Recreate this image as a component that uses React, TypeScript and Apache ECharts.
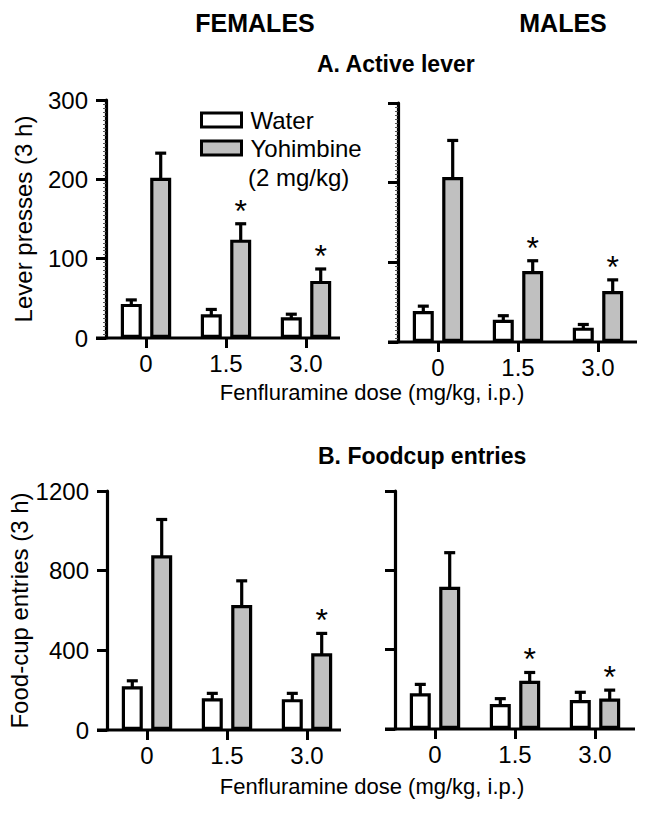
import React, { useEffect, useRef } from "react";
import * as echarts from "echarts";

const categories = ["0", "1.5", "3.0"];

const femLeverWater = [43, 30, 26];
const femLeverWaterSem = [5, 6, 4];
const femLeverYoh = [202, 124, 72];
const femLeverYohSem = [31, 20, 15];
const femLeverYohStar = [0, 1, 1];

const maleLeverWater = [39, 28, 18];
const maleLeverWaterSem = [6, 5, 4];
const maleLeverYoh = [207, 89, 64];
const maleLeverYohSem = [46, 13, 14];
const maleLeverYohStar = [0, 1, 1];

const femFoodWater = [220, 159, 155];
const femFoodWaterSem = [27, 25, 29];
const femFoodYoh = [877, 627, 385];
const femFoodYohSem = [180, 122, 100];
const femFoodYohStar = [0, 0, 1];

const maleFoodWater = [180, 126, 146];
const maleFoodWaterSem = [45, 27, 39];
const maleFoodYoh = [717, 243, 154];
const maleFoodYohSem = [172, 42, 42];
const maleFoodYohStar = [0, 1, 1];

const noStars = [0, 0, 0];

const leverTicks = { max: 300, interval: 100 };
const foodTicks = { max: 1200, interval: 400 };

const FONT = "Liberation Sans, Arial, Helvetica, sans-serif";
const BAR_W = 21;
const BAR_GAP = 0.4;
const OFFSET = (BAR_W * (1 + BAR_GAP)) / 2;

const panels = [
  {
    grid: { left: 106, top: 100, width: 240, height: 238 },
    ticks: leverTicks, labels: true, name: "Lever presses (3 h)", lineEnd: 234,
    water: femLeverWater, waterSem: femLeverWaterSem,
    yoh: femLeverYoh, yohSem: femLeverYohSem, yohStar: femLeverYohStar, minor: true,
  },
  {
    grid: { left: 398, top: 103, width: 240, height: 239 },
    ticks: leverTicks, labels: false, name: "", lineEnd: 239,
    water: maleLeverWater, waterSem: maleLeverWaterSem,
    yoh: maleLeverYoh, yohSem: maleLeverYohSem, yohStar: maleLeverYohStar, minor: true,
  },
  {
    grid: { left: 107, top: 491, width: 240, height: 239 },
    ticks: foodTicks, labels: true, name: "Food-cup entries (3 h)", lineEnd: 234,
    water: femFoodWater, waterSem: femFoodWaterSem,
    yoh: femFoodYoh, yohSem: femFoodYohSem, yohStar: femFoodYohStar, minor: false,
  },
  {
    grid: { left: 395, top: 491, width: 240, height: 238 },
    ticks: foodTicks, labels: false, name: "", lineEnd: 240,
    water: maleFoodWater, waterSem: maleFoodWaterSem,
    yoh: maleFoodYoh, yohSem: maleFoodYohSem, yohStar: maleFoodYohStar, minor: false,
  },
];

function errSeries(gi: number, vals: number[], sems: number[], stars: number[], sign: number) {
  return {
    type: "custom",
    xAxisIndex: gi,
    yAxisIndex: gi,
    z: 5,
    encode: { x: 0, y: 1 },
    data: vals.map((v, i) => [i, v, sems[i], stars[i]]),
    renderItem: (params: any, api: any) => {
      const idx = api.value(0);
      const val = api.value(1);
      const sem = api.value(2);
      const star = api.value(3);
      const base = api.coord([idx, val]);
      const top = api.coord([idx, val + sem]);
      const x = base[0] + sign * OFFSET;
      const children: any[] = [
        { type: "line", shape: { x1: x, y1: base[1] + 2, x2: x, y2: top[1] }, style: { stroke: "#000", lineWidth: 3.2 } },
        { type: "line", shape: { x1: x - 5.5, y1: top[1], x2: x + 5.5, y2: top[1] }, style: { stroke: "#000", lineWidth: 3.2 } },
      ];
      if (star) {
        children.push({
          type: "text",
          style: {
            text: "*", x: x, y: top[1] - 13, align: "center", verticalAlign: "middle",
            fontSize: 32, fontFamily: FONT, fill: "#000",
          },
        });
      }
      return { type: "group", children };
    },
  };
}

export default function App() {
  const ref = useRef<HTMLDivElement>(null);
  useEffect(() => {
    if (!ref.current) return;
    const chart = echarts.init(ref.current, null, { renderer: "svg" });
    const grids = panels.map((p) => ({ ...p.grid, containLabel: false }));
    const xAxes = panels.map((p, i) => ({
      type: "category",
      gridIndex: i,
      data: categories,
      axisLine: { show: false },
      axisTick: { show: true, alignWithLabel: true, length: 10, lineStyle: { color: "#000", width: 3 } },
      axisLabel: { color: "#000", fontSize: 24, fontFamily: FONT, margin: 13 },
      splitLine: { show: false },
    }));
    const yAxes = panels.map((p, i) => ({
      type: "value",
      gridIndex: i,
      min: 0,
      max: p.ticks.max,
      interval: p.ticks.interval,
      name: p.name,
      nameLocation: "middle",
      nameGap: 71,
      nameTextStyle: { color: "#000", fontSize: 24, fontFamily: FONT },
      axisLine: { show: true, lineStyle: { color: "#000", width: 3.2 } },
      axisTick: { show: true, length: 10, lineStyle: { color: "#000", width: 3 } },
      minorTick: { show: p.minor, splitNumber: 20, length: 3, lineStyle: { color: "#555", width: 1 } },
      axisLabel: {
        show: p.labels, color: "#000", fontSize: 24, fontFamily: FONT, margin: 18,
        formatter: (v: number) => String(v),
      },
      splitLine: { show: false },
    }));
    const series: any[] = [];
    panels.forEach((p, i) => {
      series.push({
        type: "bar", name: "Water", xAxisIndex: i, yAxisIndex: i, data: p.water,
        barWidth: BAR_W, barGap: BAR_GAP * 100 + "%",
        itemStyle: { color: "#ffffff", borderColor: "#000", borderWidth: 3.2 },
      });
      series.push({
        type: "bar", name: "Yohimbine", xAxisIndex: i, yAxisIndex: i, data: p.yoh,
        barWidth: BAR_W, barGap: BAR_GAP * 100 + "%",
        itemStyle: { color: "#c0c0c0", borderColor: "#000", borderWidth: 3.2 },
      });
      series.push(errSeries(i, p.water, p.waterSem, noStars, -1));
      series.push(errSeries(i, p.yoh, p.yohSem, p.yohStar, 1));
    });
    const axisLines = panels.map((p) => ({
      type: "line",
      shape: {
        x1: p.grid.left - 10, y1: p.grid.top + p.grid.height,
        x2: p.grid.left + p.lineEnd, y2: p.grid.top + p.grid.height,
      },
      style: { stroke: "#000", lineWidth: 3.2 },
      z: 10,
    }));
    const txt = (text: string, x: number, y: number, size: number, bold: boolean, align = "center") => ({
      type: "text",
      x, y,
      style: {
        text, fontSize: size, fontWeight: bold ? "bold" : "normal", fontFamily: FONT,
        fill: "#000", align, verticalAlign: "middle",
      },
    });
    chart.setOption({
      animation: false,
      backgroundColor: "#ffffff",
      grid: grids,
      xAxis: xAxes,
      yAxis: yAxes,
      series,
      legend: {
        data: ["Water", "Yohimbine"],
        orient: "vertical",
        left: 195,
        top: 103,
        itemWidth: 40,
        itemHeight: 14,
        itemGap: 4,
        icon: "rect",
        selectedMode: false,
        itemStyle: { borderColor: "#000", borderWidth: 3 },
        textStyle: { color: "#000", fontSize: 24, fontFamily: FONT, padding: [0, 0, 0, 4] },
      },
      graphic: [
        ...axisLines,
        txt("FEMALES", 255, 23, 25, true),
        txt("MALES", 563, 23, 25, true),
        txt("A. Active lever", 317, 64, 23, true, "left"),
        txt("B. Foodcup entries", 318, 456, 23, true, "left"),
        txt("Fenfluramine dose (mg/kg, i.p.)", 372, 392, 22, false),
        txt("Fenfluramine dose (mg/kg, i.p.)", 372, 786, 22, false),
        txt("(2 mg/kg)", 248, 177, 24, false, "left"),
      ],
    });
    return () => chart.dispose();
  }, []);
  return (
    <div
      ref={ref}
      style={{ position: "absolute", left: 0, top: 0, width: 649, height: 815, background: "#fff" }}
    />
  );
}
